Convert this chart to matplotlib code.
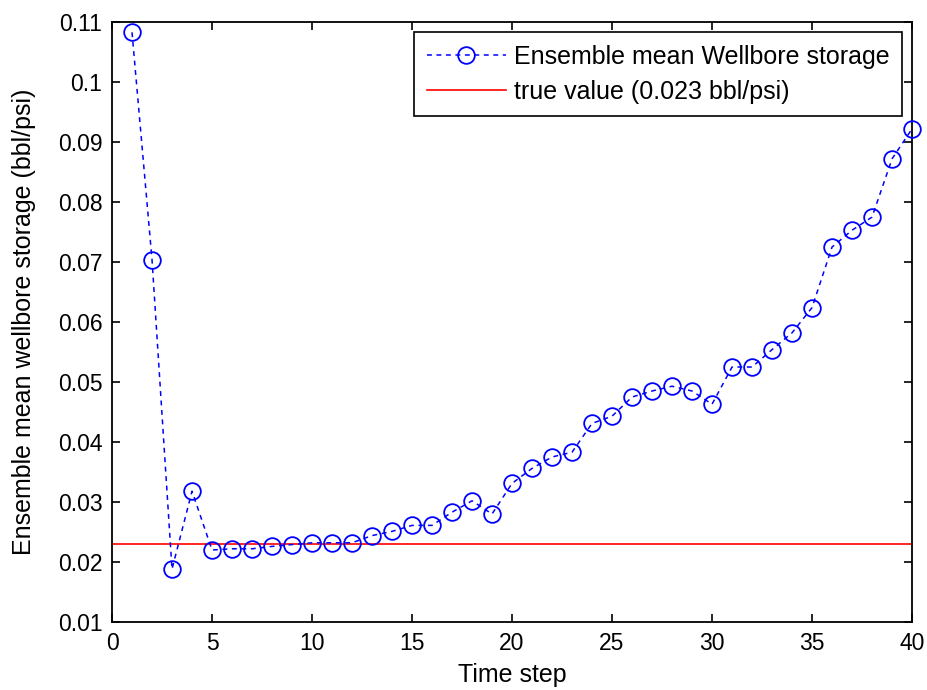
import numpy as np
import matplotlib.pyplot as plt

plt.rcParams['font.family'] = ['Liberation Sans', 'DejaVu Sans']

steps = list(range(1, 41))
mean_storage = [0.1083, 0.0704, 0.0188, 0.0318, 0.0220, 0.0222, 0.0222, 0.0226, 0.0229, 0.0232,
                0.0232, 0.0232, 0.0244, 0.0251, 0.0261, 0.0261, 0.0283, 0.0302, 0.0280, 0.0331,
                0.0356, 0.0375, 0.0383, 0.0431, 0.0443, 0.0475, 0.0485, 0.0493, 0.0485, 0.0463,
                0.0525, 0.0525, 0.0554, 0.0582, 0.0624, 0.0725, 0.0753, 0.0775, 0.0872, 0.0922]
true_value = 0.023

fig = plt.figure(figsize=(9.28, 6.9), dpi=100)
ax = fig.add_axes([0.1207, 0.0986, 0.8621, 0.8694])

line, = ax.plot(steps, mean_storage, '--o', color='#0000ff', lw=1.1, ms=12, mfc='none', mew=1.3,
                label='Ensemble mean Wellbore storage', clip_on=False, zorder=3)
line.set_dashes((3.2, 3.0))
ax.axhline(true_value, color='#ff0000', lw=1.2, label='true value (0.023 bbl/psi)')

ax.set_xlim(0, 40)
ax.set_ylim(0.01, 0.11)
ax.set_xticks(np.arange(0, 41, 5))
ax.set_yticks(np.arange(0.01, 0.111, 0.01))
ax.set_yticklabels(['0.01', '0.02', '0.03', '0.04', '0.05', '0.06', '0.07', '0.08', '0.09', '0.1', '0.11'])
ax.tick_params(direction='in', top=True, right=True, length=6, width=1.2, labelsize=16.5, pad=7)
for s in ax.spines.values():
    s.set_linewidth(1.3)

ax.set_xlabel('Time step', fontsize=18, va='center')
ax.xaxis.set_label_coords(0.5, -0.088)
ax.set_ylabel('Ensemble mean wellbore storage (bbl/psi)', fontsize=18, va='center')
ax.yaxis.set_label_coords(-0.11, 0.5)

leg = ax.legend(loc='upper right', fontsize=18, fancybox=False, edgecolor='black',
                framealpha=1, borderaxespad=0.4, borderpad=0.5, labelspacing=0.45,
                handlelength=3.16, handletextpad=0.32)
leg.get_frame().set_linewidth(1.2)

fig.savefig('out.png', dpi=100)
